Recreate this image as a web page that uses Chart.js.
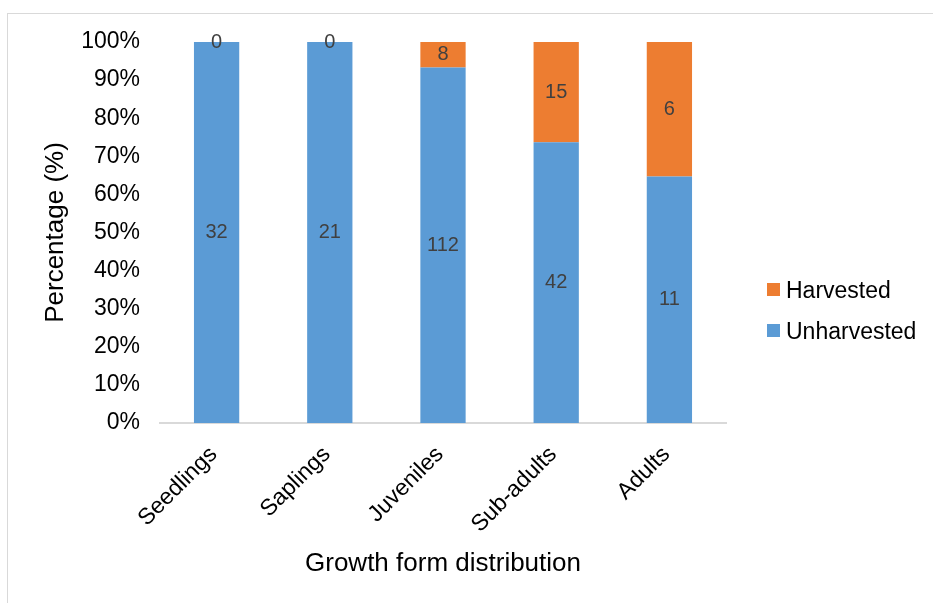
<!DOCTYPE html>
<html>
<head>
<meta charset="utf-8">
<script src="https://cdn.jsdelivr.net/npm/chart.js@4.4.1/dist/chart.umd.min.js"></script>
<style>
  body { margin: 0; background: #fff; }
  #wrap { position: relative; width: 933px; height: 603px; overflow: hidden; }
  #frame { position: absolute; left: 7px; top: 13px; right: 0; bottom: 0;
           border-left: 1px solid #d9d9d9; border-top: 1px solid #d9d9d9; }
  #chart { position: absolute; left: 0; top: 0; }
  #legend { position: absolute; left: 767px; top: 276px; font-family: "Liberation Sans", Arial, sans-serif;
            font-size: 23px; color: #000; }
  #legend div { height: 41px; line-height: 28px; }
  #legend span { display: inline-block; width: 13px; height: 13px; margin-right: 6px; vertical-align: 2px; }
</style>
</head>
<body>
<div id="wrap">
  <div id="frame"></div>
  <canvas id="chart" width="933" height="603"></canvas>
  <div id="legend"></div>
</div>
<script>
// Datos (conteos por clase)
const categories = ["Seedlings", "Saplings", "Juveniles", "Sub-adults", "Adults"];
const unharvested = [32, 21, 112, 42, 11];
const harvested = [0, 0, 8, 15, 6];
const yTicks = [0, 10, 20, 30, 40, 50, 60, 70, 80, 90, 100];

// Porcentajes a partir de los conteos
const totals = categories.map((c, i) => unharvested[i] + harvested[i]);
const pctUnh = unharvested.map((v, i) => v / totals[i] * 100);
const pctHar = harvested.map((v, i) => v / totals[i] * 100);

const FONT = "'Liberation Sans', Arial, sans-serif";

// Etiquetas con el conteo en el centro de cada segmento
const countLabels = {
  id: "countLabels",
  afterDatasetsDraw(chart) {
    const ctx = chart.ctx;
    ctx.save();
    ctx.font = "20px " + FONT;
    ctx.fillStyle = "#404040";
    ctx.textAlign = "center";
    ctx.textBaseline = "middle";
    chart.data.datasets.forEach((ds, di) => {
      const meta = chart.getDatasetMeta(di);
      meta.data.forEach((bar, i) => {
        const y = (bar.y + bar.base) / 2;
        ctx.fillText(String(ds.counts[i]), bar.x, y);
      });
    });
    ctx.restore();
  }
};

const chart = new Chart(document.getElementById("chart"), {
  type: "bar",
  data: {
    labels: categories,
    datasets: [
      {
        label: "Unharvested",
        data: pctUnh,
        counts: unharvested,
        backgroundColor: "#5B9BD5"
      },
      {
        label: "Harvested",
        data: pctHar,
        counts: harvested,
        backgroundColor: "#ED7D31"
      }
    ]
  },
  options: {
    responsive: false,
    animation: false,
    layout: { padding: { left: 0, top: 42, right: 207, bottom: 0 } },
    datasets: { bar: { barPercentage: 0.4, categoryPercentage: 1 } },
    plugins: {
      legend: { display: false },
      tooltip: { enabled: false }
    },
    scales: {
      x: {
        stacked: true,
        afterFit: s => { s.height = 180; },
        grid: { display: false, drawTicks: false },
        border: { display: true, color: "#d9d9d9", width: 2 },
        ticks: {
          color: "#000",
          font: { family: FONT, size: 23 },
          minRotation: 45,
          maxRotation: 45,
          padding: 18,
          labelOffset: -3
        },
        title: {
          display: true,
          text: "Growth form distribution",
          color: "#000",
          font: { family: FONT, size: 26 },
          padding: { top: 0, bottom: 24 }
        }
      },
      y: {
        stacked: true,
        min: 0,
        max: 100,
        afterFit: s => { s.width = 160; },
        afterBuildTicks: s => { s.ticks = yTicks.map(v => ({ value: v })); },
        grid: { display: false, drawTicks: false },
        border: { display: false },
        ticks: {
          color: "#000",
          font: { family: FONT, size: 23 },
          padding: 20,
          callback: v => v + "%"
        },
        title: {
          display: true,
          text: "Percentage (%)",
          color: "#000",
          font: { family: FONT, size: 26 },
          padding: { top: 40, bottom: 0 }
        }
      }
    }
  },
  plugins: [countLabels]
});

// Leyenda en HTML (Harvested arriba)
const legend = document.getElementById("legend");
chart.data.datasets.slice().reverse().forEach(ds => {
  const row = document.createElement("div");
  row.innerHTML = '<span style="background:' + ds.backgroundColor + '"></span>' + ds.label;
  legend.appendChild(row);
});
</script>
</body>
</html>
